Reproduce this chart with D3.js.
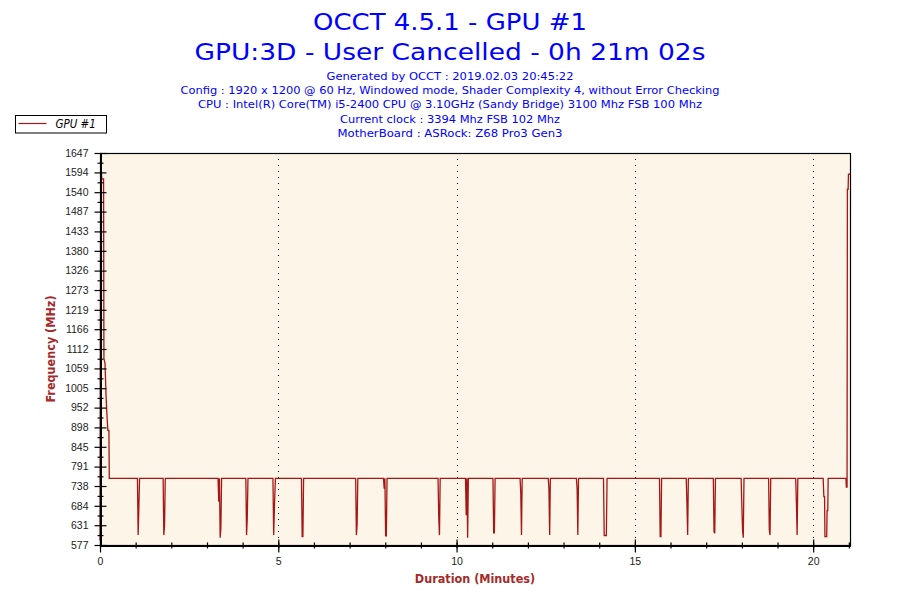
<!DOCTYPE html>
<html>
<head>
<meta charset="utf-8">
<script src="https://cdn.jsdelivr.net/npm/d3@7"></script>
<style>
  body { margin: 0; background: #fff; }
  svg { display: block; font-family: "DejaVu Sans Condensed", "DejaVu Sans", sans-serif; font-stretch: condensed; }
  .wide { font-family: "DejaVu Sans", sans-serif; font-stretch: normal; }
</style>
</head>
<body>
<svg id="chart" width="900" height="600"></svg>
<script>
// Title block
const titleLines = ["OCCT 4.5.1 - GPU #1", "GPU:3D - User Cancelled - 0h 21m 02s"];
const infoLines = [
  "Generated by OCCT : 2019.02.03 20:45:22",
  "Config : 1920 x 1200 @ 60 Hz, Windowed mode, Shader Complexity 4, without Error Checking",
  "CPU : Intel(R) Core(TM) i5-2400 CPU @ 3.10GHz (Sandy Bridge) 3100 Mhz FSB 100 Mhz",
  "Current clock : 3394 Mhz FSB 102 Mhz",
  "MotherBoard : ASRock: Z68 Pro3 Gen3"
];
const seriesName = "GPU #1";

// Axis ticks
const yTickLabels = [577, 631, 684, 738, 791, 845, 898, 952, 1005, 1059, 1112, 1166, 1219, 1273, 1326, 1380, 1433, 1487, 1540, 1594, 1647];
const xTickLabels = [0, 5, 10, 15, 20];
const xMinorTicks = [0, 1, 2, 3, 4, 5, 6, 7, 8, 9, 10, 11, 12, 13, 14, 15, 16, 17, 18, 19, 20, 21];
const xMax = 21.033; // 21m 02s

// GPU frequency samples (minutes, MHz)
const timeMin = [
  0, 0.02, 0.04, 0.05, 0.10, 0.11, 0.14, 0.17, 0.19, 0.22, 0.25, 0.26,
  1.05, 1.07, 1.09, 1.11,
  1.77, 1.79, 1.81, 1.83,
  3.31, 3.33, 3.35, 3.37, 3.39, 3.41,
  4.09, 4.11, 4.13, 4.15,
  4.85, 4.87, 4.90, 4.92,
  5.65, 5.67, 5.69, 5.71,
  7.17, 7.19, 7.21, 7.23,
  7.95, 7.97, 7.99, 8.01, 8.03, 8.05,
  9.48, 9.50, 9.52, 9.54,
  10.25, 10.27, 10.29, 10.31, 10.33,
  11.02, 11.04, 11.06, 11.08,
  11.78, 11.80, 11.82, 11.84,
  12.57, 12.59, 12.61, 12.63,
  13.36, 13.38, 13.40, 13.42,
  14.12, 14.14, 14.20, 14.22,
  15.69, 15.71, 15.73, 15.75,
  16.44, 16.46, 16.48, 16.50,
  17.20, 17.22, 17.24, 17.26,
  17.98, 18.00, 18.02, 18.04, 18.06,
  18.75, 18.77, 18.79, 18.81,
  19.51, 19.53, 19.55, 19.57,
  20.28, 20.30, 20.32, 20.33, 20.38, 20.39, 20.41, 20.42,
  20.92, 20.93, 20.95, 20.96, 20.98, 20.99, 21.03
];
const freqMHz = [
  589, 1594, 1594, 1576, 1576, 1086, 1073, 985, 940, 890, 890, 759,
  759, 604, 680, 759,
  759, 604, 630, 759,
  759, 695, 759, 597, 624, 759,
  759, 604, 651, 759,
  759, 604, 706, 759,
  759, 600, 600, 759,
  759, 604, 630, 759,
  759, 731, 759, 602, 602, 759,
  759, 651, 604, 759,
  759, 658, 759, 597, 759,
  759, 610, 610, 759,
  759, 720, 604, 759,
  759, 731, 604, 759,
  759, 731, 604, 759,
  759, 603, 603, 759,
  759, 600, 600, 759,
  759, 692, 604, 759,
  759, 613, 609, 759,
  759, 682, 616, 597, 759,
  759, 618, 604, 759,
  759, 692, 604, 759,
  759, 709, 709, 600, 600, 671, 671, 759,
  759, 735, 735, 1548, 1548, 1589, 1589
];

const svg = d3.select("#chart");
const width = 900, height = 600;
const plot = { left: 100, right: 850, top: 153, bottom: 545 };
const lineColor = "#a51616";
const titleColor = "#0000ff";
const axisTitleColor = "#a52a2a";
// rendered widths of the header lines (to mimic the original Tahoma metrics)
const titleWidths = [274, 511];
const infoWidths = [247, 539, 504, 220, 225];

const x = d3.scaleLinear().domain([0, xMax]).range([plot.left, plot.right]);
const y = d3.scaleLinear().domain([577, 1647]).range([plot.bottom, plot.top]);

// plot background
svg.append("rect")
  .attr("x", plot.left).attr("y", plot.top)
  .attr("width", plot.right - plot.left).attr("height", plot.bottom - plot.top)
  .attr("fill", "#fdf6e8");

// vertical dotted grid
svg.append("g")
  .selectAll("line")
  .data(xTickLabels.filter(d => d > 0))
  .join("line")
  .attr("x1", d => Math.round(x(d)) + 0.5).attr("x2", d => Math.round(x(d)) + 0.5)
  .attr("y1", plot.top).attr("y2", plot.bottom)
  .attr("stroke", "#000")
  .attr("stroke-dasharray", "1,5");

// data line
const points = d3.zip(timeMin, freqMHz);
svg.append("path")
  .datum(points)
  .attr("fill", "none")
  .attr("stroke", lineColor)
  .attr("stroke-width", 1.3)
  .attr("d", d3.line().x(d => x(d[0])).y(d => y(d[1])));

// frame (top/right)
svg.append("rect")
  .attr("x", plot.left + 0.5).attr("y", plot.top + 0.5)
  .attr("width", plot.right - plot.left).attr("height", plot.bottom - plot.top)
  .attr("fill", "none").attr("stroke", "#000").attr("stroke-width", 1.2);

// axes: ticks cross the axis line, so draw one axis on each side
function styleAxis(g) {
  g.select(".domain").attr("stroke", "#000").attr("stroke-width", 1.3);
  g.selectAll(".tick line").attr("stroke", "#000").attr("stroke-width", 1.2);
  g.selectAll(".tick text").attr("fill", "#222").style("font-size", "10.5px");
}

const yMinor = d3.pairs(yTickLabels).map(p => (p[0] + p[1]) / 2);

svg.append("g")
  .attr("transform", `translate(${plot.left + 0.5},0)`)
  .call(d3.axisLeft(y).tickValues(yTickLabels).tickFormat(d3.format("d"))
    .tickSize(6).tickSizeOuter(0).tickPadding(6))
  .call(styleAxis);
svg.append("g")
  .attr("transform", `translate(${plot.left + 0.5},0)`)
  .call(d3.axisRight(y).tickValues(yTickLabels).tickSize(6).tickSizeOuter(0).tickFormat(""))
  .call(styleAxis);
svg.append("g")
  .attr("transform", `translate(${plot.left + 0.5},0)`)
  .call(d3.axisLeft(y).tickValues(yMinor).tickSize(3).tickSizeOuter(0).tickFormat(""))
  .call(styleAxis);
svg.append("g")
  .attr("transform", `translate(${plot.left + 0.5},0)`)
  .call(d3.axisRight(y).tickValues(yMinor).tickSize(3).tickSizeOuter(0).tickFormat(""))
  .call(styleAxis);

svg.append("g")
  .attr("transform", `translate(0,${plot.bottom + 0.5})`)
  .call(d3.axisBottom(x).tickValues(xTickLabels).tickSize(7).tickSizeOuter(0).tickPadding(5))
  .call(styleAxis);
svg.append("g")
  .attr("transform", `translate(0,${plot.bottom + 0.5})`)
  .call(d3.axisTop(x).tickValues(xTickLabels).tickSize(6).tickSizeOuter(0).tickFormat(""))
  .call(styleAxis);
svg.append("g")
  .attr("transform", `translate(0,${plot.bottom + 0.5})`)
  .call(d3.axisBottom(x).tickValues(xMinorTicks).tickSize(3).tickSizeOuter(0).tickFormat(""))
  .call(styleAxis);
svg.append("g")
  .attr("transform", `translate(0,${plot.bottom + 0.5})`)
  .call(d3.axisTop(x).tickValues(xMinorTicks).tickSize(3).tickSizeOuter(0).tickFormat(""))
  .call(styleAxis);

// axis titles
svg.append("text")
  .attr("x", (plot.left + plot.right) / 2).attr("y", 583)
  .attr("text-anchor", "middle")
  .attr("fill", axisTitleColor)
  .style("font-size", "12.5px").style("font-weight", "bold")
  .text("Duration (Minutes)");

svg.append("text")
  .attr("transform", `translate(55,${(plot.top + plot.bottom) / 2}) rotate(-90)`)
  .attr("text-anchor", "middle")
  .attr("fill", axisTitleColor)
  .style("font-size", "12.5px").style("font-weight", "bold")
  .text("Frequency (MHz)");

// titles
svg.selectAll("text.title")
  .data(titleLines)
  .join("text")
  .attr("class", "title wide")
  .attr("x", width / 2)
  .attr("y", (d, i) => 29.5 + i * 30)
  .attr("text-anchor", "middle")
  .attr("fill", titleColor)
  .attr("textLength", (d, i) => titleWidths[i])
  .attr("lengthAdjust", "spacingAndGlyphs")
  .style("font-size", "23.5px")
  .text(d => d);

svg.selectAll("text.info")
  .data(infoLines)
  .join("text")
  .attr("class", "info wide")
  .attr("x", width / 2)
  .attr("y", (d, i) => 80 + i * 14.2)
  .attr("text-anchor", "middle")
  .attr("fill", titleColor)
  .attr("textLength", (d, i) => infoWidths[i])
  .attr("lengthAdjust", "spacingAndGlyphs")
  .style("font-size", "11px")
  .text(d => d);

// legend
const legend = svg.append("g").attr("transform", "translate(15.5,115.5)");
legend.append("rect")
  .attr("width", 91).attr("height", 17.5)
  .attr("fill", "#fff").attr("stroke", "#000");
legend.append("line")
  .attr("x1", 3).attr("x2", 31).attr("y1", 8).attr("y2", 8)
  .attr("stroke", lineColor).attr("stroke-width", 1.2);
legend.append("text")
  .attr("x", 40).attr("y", 12.5)
  .attr("fill", "#000")
  .style("font-size", "11.5px").style("font-style", "italic")
  .text(seriesName);
</script>
</body>
</html>
